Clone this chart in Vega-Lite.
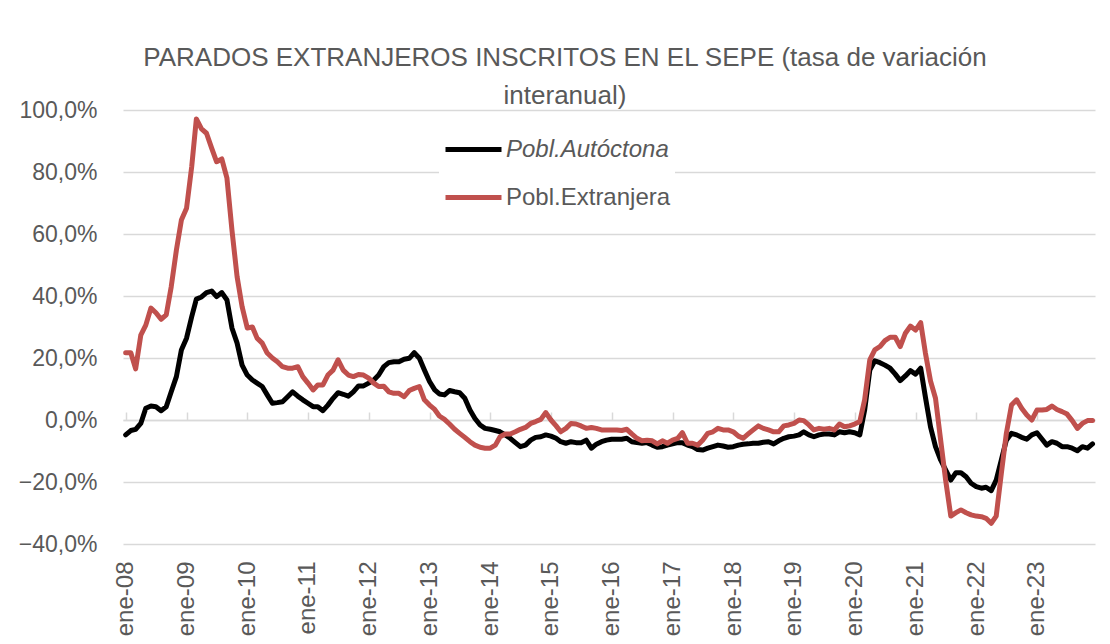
{
"$schema": "https://vega.github.io/schema/vega-lite/v6.json",
"width": 972, "height": 434,
"autosize": "none",
"padding": {"left": 123, "top": 110, "right": 15, "bottom": 100},
"background": "white",
"title": {"text": ["PARADOS EXTRANJEROS INSCRITOS EN EL SEPE (tasa de variación", "interanual)"], "font": "Liberation Sans", "fontSize": 26, "fontWeight": "normal", "color": "#595959", "anchor": "middle", "frame": "group", "dx": -44, "offset": -31, "lineHeight": 38, "baseline": "alphabetic"},
"data": {"values": [
{"mes":"2008-01","autoctona":-4.8,"extranjera":21.7},{"mes":"2008-02","autoctona":-3.4,"extranjera":21.7},{"mes":"2008-03","autoctona":-3.0,"extranjera":16.5},{"mes":"2008-04","autoctona":-1.1,"extranjera":27.4},{"mes":"2008-05","autoctona":3.8,"extranjera":30.6},{"mes":"2008-06","autoctona":4.5,"extranjera":36.1},{"mes":"2008-07","autoctona":4.3,"extranjera":34.6},{"mes":"2008-08","autoctona":3.0,"extranjera":32.5},{"mes":"2008-09","autoctona":4.3,"extranjera":33.9},{"mes":"2008-10","autoctona":9.1,"extranjera":43.0},{"mes":"2008-11","autoctona":14.0,"extranjera":54.8},{"mes":"2008-12","autoctona":22.6,"extranjera":64.5},
{"mes":"2009-01","autoctona":26.4,"extranjera":68.3},{"mes":"2009-02","autoctona":33.3,"extranjera":81.7},{"mes":"2009-03","autoctona":39.0,"extranjera":97.1},{"mes":"2009-04","autoctona":39.7,"extranjera":93.9},{"mes":"2009-05","autoctona":41.1,"extranjera":92.5},{"mes":"2009-06","autoctona":41.6,"extranjera":87.7},{"mes":"2009-07","autoctona":39.8,"extranjera":83.3},{"mes":"2009-08","autoctona":41.1,"extranjera":84.2},{"mes":"2009-09","autoctona":38.7,"extranjera":78.0},{"mes":"2009-10","autoctona":29.7,"extranjera":61.3},{"mes":"2009-11","autoctona":24.8,"extranjera":46.2},{"mes":"2009-12","autoctona":17.7,"extranjera":36.6},
{"mes":"2010-01","autoctona":14.5,"extranjera":29.7},{"mes":"2010-02","autoctona":12.9,"extranjera":30.0},{"mes":"2010-03","autoctona":11.9,"extranjera":26.4},{"mes":"2010-04","autoctona":10.8,"extranjera":24.8},{"mes":"2010-05","autoctona":8.1,"extranjera":21.6},{"mes":"2010-06","autoctona":5.4,"extranjera":20.0},{"mes":"2010-07","autoctona":5.6,"extranjera":18.8},{"mes":"2010-08","autoctona":5.9,"extranjera":17.2},{"mes":"2010-09","autoctona":7.5,"extranjera":16.7},{"mes":"2010-10","autoctona":9.1,"extranjera":16.7},{"mes":"2010-11","autoctona":7.7,"extranjera":17.2},{"mes":"2010-12","autoctona":6.5,"extranjera":14.0},
{"mes":"2011-01","autoctona":5.4,"extranjera":11.9},{"mes":"2011-02","autoctona":4.3,"extranjera":9.7},{"mes":"2011-03","autoctona":4.3,"extranjera":11.3},{"mes":"2011-04","autoctona":3.0,"extranjera":11.3},{"mes":"2011-05","autoctona":4.8,"extranjera":14.5},{"mes":"2011-06","autoctona":7.0,"extranjera":16.1},{"mes":"2011-07","autoctona":8.8,"extranjera":19.4},{"mes":"2011-08","autoctona":8.3,"extranjera":16.1},{"mes":"2011-09","autoctona":7.7,"extranjera":14.5},{"mes":"2011-10","autoctona":9.1,"extranjera":14.0},{"mes":"2011-11","autoctona":11.0,"extranjera":14.7},{"mes":"2011-12","autoctona":11.0,"extranjera":14.5},
{"mes":"2012-01","autoctona":11.9,"extranjera":13.5},{"mes":"2012-02","autoctona":12.9,"extranjera":11.9},{"mes":"2012-03","autoctona":14.5,"extranjera":10.8},{"mes":"2012-04","autoctona":17.2,"extranjera":10.9},{"mes":"2012-05","autoctona":18.5,"extranjera":9.1},{"mes":"2012-06","autoctona":18.8,"extranjera":8.6},{"mes":"2012-07","autoctona":18.8,"extranjera":8.6},{"mes":"2012-08","autoctona":19.6,"extranjera":7.5},{"mes":"2012-09","autoctona":19.9,"extranjera":9.5},{"mes":"2012-10","autoctona":21.7,"extranjera":10.2},{"mes":"2012-11","autoctona":19.9,"extranjera":10.8},{"mes":"2012-12","autoctona":16.1,"extranjera":6.5},
{"mes":"2013-01","autoctona":12.4,"extranjera":4.8},{"mes":"2013-02","autoctona":9.7,"extranjera":3.4},{"mes":"2013-03","autoctona":8.4,"extranjera":1.3},{"mes":"2013-04","autoctona":8.1,"extranjera":0.2},{"mes":"2013-05","autoctona":9.5,"extranjera":-1.3},{"mes":"2013-06","autoctona":9.1,"extranjera":-3.0},{"mes":"2013-07","autoctona":8.8,"extranjera":-4.3},{"mes":"2013-08","autoctona":7.0,"extranjera":-5.6},{"mes":"2013-09","autoctona":3.2,"extranjera":-7.0},{"mes":"2013-10","autoctona":0.5,"extranjera":-8.1},{"mes":"2013-11","autoctona":-1.6,"extranjera":-8.8},{"mes":"2013-12","autoctona":-2.7,"extranjera":-9.1},
{"mes":"2014-01","autoctona":-3.0,"extranjera":-9.1},{"mes":"2014-02","autoctona":-3.4,"extranjera":-8.1},{"mes":"2014-03","autoctona":-3.8,"extranjera":-5.4},{"mes":"2014-04","autoctona":-4.8,"extranjera":-4.5},{"mes":"2014-05","autoctona":-5.9,"extranjera":-4.5},{"mes":"2014-06","autoctona":-7.3,"extranjera":-3.8},{"mes":"2014-07","autoctona":-8.6,"extranjera":-3.0},{"mes":"2014-08","autoctona":-8.1,"extranjera":-2.4},{"mes":"2014-09","autoctona":-6.5,"extranjera":-1.1},{"mes":"2014-10","autoctona":-5.6,"extranjera":-0.5},{"mes":"2014-11","autoctona":-5.4,"extranjera":0.2},{"mes":"2014-12","autoctona":-4.8,"extranjera":2.4},
{"mes":"2015-01","autoctona":-5.2,"extranjera":0.0},{"mes":"2015-02","autoctona":-5.9,"extranjera":-1.9},{"mes":"2015-03","autoctona":-7.0,"extranjera":-3.8},{"mes":"2015-04","autoctona":-7.5,"extranjera":-2.7},{"mes":"2015-05","autoctona":-7.0,"extranjera":-1.1},{"mes":"2015-06","autoctona":-7.3,"extranjera":-1.3},{"mes":"2015-07","autoctona":-7.3,"extranjera":-1.9},{"mes":"2015-08","autoctona":-6.5,"extranjera":-2.7},{"mes":"2015-09","autoctona":-9.1,"extranjera":-2.4},{"mes":"2015-10","autoctona":-7.8,"extranjera":-2.7},{"mes":"2015-11","autoctona":-7.0,"extranjera":-3.2},{"mes":"2015-12","autoctona":-6.5,"extranjera":-3.2},
{"mes":"2016-01","autoctona":-6.2,"extranjera":-3.2},{"mes":"2016-02","autoctona":-6.2,"extranjera":-3.2},{"mes":"2016-03","autoctona":-6.2,"extranjera":-3.4},{"mes":"2016-04","autoctona":-5.9,"extranjera":-3.0},{"mes":"2016-05","autoctona":-7.0,"extranjera":-4.5},{"mes":"2016-06","autoctona":-7.3,"extranjera":-5.9},{"mes":"2016-07","autoctona":-7.5,"extranjera":-6.7},{"mes":"2016-08","autoctona":-7.3,"extranjera":-6.5},{"mes":"2016-09","autoctona":-8.1,"extranjera":-6.7},{"mes":"2016-10","autoctona":-8.8,"extranjera":-7.7},{"mes":"2016-11","autoctona":-8.6,"extranjera":-6.7},{"mes":"2016-12","autoctona":-8.1,"extranjera":-7.5},
{"mes":"2017-01","autoctona":-7.7,"extranjera":-6.5},{"mes":"2017-02","autoctona":-7.3,"extranjera":-5.9},{"mes":"2017-03","autoctona":-7.3,"extranjera":-4.1},{"mes":"2017-04","autoctona":-8.1,"extranjera":-7.5},{"mes":"2017-05","autoctona":-8.6,"extranjera":-7.5},{"mes":"2017-06","autoctona":-9.5,"extranjera":-8.1},{"mes":"2017-07","autoctona":-9.7,"extranjera":-6.5},{"mes":"2017-08","autoctona":-9.1,"extranjera":-4.3},{"mes":"2017-09","autoctona":-8.6,"extranjera":-3.8},{"mes":"2017-10","autoctona":-8.1,"extranjera":-2.7},{"mes":"2017-11","autoctona":-8.4,"extranjera":-3.2},{"mes":"2017-12","autoctona":-8.8,"extranjera":-3.2},
{"mes":"2018-01","autoctona":-8.6,"extranjera":-3.8},{"mes":"2018-02","autoctona":-8.1,"extranjera":-5.2},{"mes":"2018-03","autoctona":-7.8,"extranjera":-5.9},{"mes":"2018-04","autoctona":-7.7,"extranjera":-4.5},{"mes":"2018-05","autoctona":-7.5,"extranjera":-3.2},{"mes":"2018-06","autoctona":-7.5,"extranjera":-1.9},{"mes":"2018-07","autoctona":-7.2,"extranjera":-2.7},{"mes":"2018-08","autoctona":-7.0,"extranjera":-3.2},{"mes":"2018-09","autoctona":-7.7,"extranjera":-3.8},{"mes":"2018-10","autoctona":-6.7,"extranjera":-3.8},{"mes":"2018-11","autoctona":-5.9,"extranjera":-1.9},{"mes":"2018-12","autoctona":-5.4,"extranjera":-1.6},
{"mes":"2019-01","autoctona":-5.2,"extranjera":-1.1},{"mes":"2019-02","autoctona":-4.8,"extranjera":0.0},{"mes":"2019-03","autoctona":-3.8,"extranjera":-0.2},{"mes":"2019-04","autoctona":-4.8,"extranjera":-1.6},{"mes":"2019-05","autoctona":-5.4,"extranjera":-3.2},{"mes":"2019-06","autoctona":-4.8,"extranjera":-2.7},{"mes":"2019-07","autoctona":-4.5,"extranjera":-3.0},{"mes":"2019-08","autoctona":-4.5,"extranjera":-2.7},{"mes":"2019-09","autoctona":-4.8,"extranjera":-3.2},{"mes":"2019-10","autoctona":-3.8,"extranjera":-1.3},{"mes":"2019-11","autoctona":-4.1,"extranjera":-2.2},{"mes":"2019-12","autoctona":-3.8,"extranjera":-1.9},
{"mes":"2020-01","autoctona":-4.1,"extranjera":-1.3},{"mes":"2020-02","autoctona":-4.8,"extranjera":-0.5},{"mes":"2020-03","autoctona":3.2,"extranjera":6.5},{"mes":"2020-04","autoctona":16.1,"extranjera":19.4},{"mes":"2020-05","autoctona":19.1,"extranjera":22.6},{"mes":"2020-06","autoctona":18.5,"extranjera":23.7},{"mes":"2020-07","autoctona":17.7,"extranjera":25.6},{"mes":"2020-08","autoctona":16.7,"extranjera":26.7},{"mes":"2020-09","autoctona":14.8,"extranjera":26.7},{"mes":"2020-10","autoctona":12.7,"extranjera":23.7},{"mes":"2020-11","autoctona":14.2,"extranjera":28.0},{"mes":"2020-12","autoctona":15.9,"extranjera":30.3},
{"mes":"2021-01","autoctona":14.8,"extranjera":29.0},{"mes":"2021-02","autoctona":16.7,"extranjera":31.4},{"mes":"2021-03","autoctona":7.5,"extranjera":21.7},{"mes":"2021-04","autoctona":-2.2,"extranjera":12.6},{"mes":"2021-05","autoctona":-8.6,"extranjera":7.0},{"mes":"2021-06","autoctona":-12.9,"extranjera":-6.5},{"mes":"2021-07","autoctona":-16.1,"extranjera":-19.4},{"mes":"2021-08","autoctona":-19.4,"extranjera":-31.0},{"mes":"2021-09","autoctona":-17.0,"extranjera":-29.9},{"mes":"2021-10","autoctona":-17.0,"extranjera":-29.0},{"mes":"2021-11","autoctona":-18.3,"extranjera":-29.9},{"mes":"2021-12","autoctona":-20.4,"extranjera":-30.6},
{"mes":"2022-01","autoctona":-21.5,"extranjera":-31.0},{"mes":"2022-02","autoctona":-22.0,"extranjera":-31.2},{"mes":"2022-03","autoctona":-21.7,"extranjera":-31.7},{"mes":"2022-04","autoctona":-22.8,"extranjera":-33.3},{"mes":"2022-05","autoctona":-19.4,"extranjera":-31.0},{"mes":"2022-06","autoctona":-12.9,"extranjera":-17.2},{"mes":"2022-07","autoctona":-6.5,"extranjera":-4.3},{"mes":"2022-08","autoctona":-4.3,"extranjera":4.8},{"mes":"2022-09","autoctona":-4.8,"extranjera":6.5},{"mes":"2022-10","autoctona":-5.6,"extranjera":3.8},{"mes":"2022-11","autoctona":-6.2,"extranjera":1.6},{"mes":"2022-12","autoctona":-4.8,"extranjera":0.0},
{"mes":"2023-01","autoctona":-4.1,"extranjera":3.2},{"mes":"2023-02","autoctona":-6.2,"extranjera":3.2},{"mes":"2023-03","autoctona":-8.1,"extranjera":3.4},{"mes":"2023-04","autoctona":-7.0,"extranjera":4.5},{"mes":"2023-05","autoctona":-7.5,"extranjera":3.4},{"mes":"2023-06","autoctona":-8.6,"extranjera":2.7},{"mes":"2023-07","autoctona":-8.6,"extranjera":1.9},{"mes":"2023-08","autoctona":-9.1,"extranjera":-0.2},{"mes":"2023-09","autoctona":-9.9,"extranjera":-2.7},{"mes":"2023-10","autoctona":-8.6,"extranjera":-1.1},{"mes":"2023-11","autoctona":-9.1,"extranjera":-0.2},{"mes":"2023-12","autoctona":-7.7,"extranjera":-0.2}
]},
"transform": [{"fold": ["autoctona", "extranjera"], "as": ["serie", "valor"]}],
"encoding": {
  "y": {"field": "valor", "type": "quantitative", "scale": {"domain": [-40, 100], "nice": false, "zero": false},
        "axis": {"values": [-40, -20, 0, 20, 40, 60, 80, 100], "labelExpr": "replace(format(datum.value, '.1f'), '.', ',') + '%'", "grid": true, "gridColor": "#d9d9d9", "gridWidth": 1.5, "domain": false, "ticks": false, "labelFont": "Liberation Sans", "labelFontSize": 23, "labelColor": "#595959", "labelPadding": 26, "title": null}},
  "color": {"field": "serie", "type": "nominal", "scale": {"domain": ["autoctona", "extranjera"], "range": ["#000000", "#C0504D"]},
            "legend": {"orient": "none", "legendX": 316, "legendY": 5, "title": null, "direction": "vertical", "symbolType": "stroke", "symbolSize": 3136, "symbolStrokeWidth": 5, "labelFont": "Liberation Sans", "labelFontSize": 24, "labelLimit": 400, "labelColor": "#595959", "labelExpr": "datum.value == 'autoctona' ? 'Pobl.Autóctona' : 'Pobl.Extranjera'", "labelFontStyle": {"expr": "datum.value == 'autoctona' ? 'italic' : 'normal'"}, "rowPadding": 5, "fillColor": "white", "padding": 4, "labelOffset": 2}}
},
"layer": [
  {"transform": [{"filter": "datum.serie == 'autoctona'"}],
   "mark": {"type": "line", "strokeWidth": 5, "strokeCap": "round", "strokeJoin": "round"},
   "encoding": {"x": {"field": "mes", "type": "temporal", "scale": {"domain": [{"year": 2007, "month": 12, "date": 16}, {"year": 2023, "month": 12, "date": 16}]},
     "axis": {"orient": "bottom", "values": [{"year":2008,"month":1,"date":1},{"year":2009,"month":1,"date":1},{"year":2010,"month":1,"date":1},{"year":2011,"month":1,"date":1},{"year":2012,"month":1,"date":1},{"year":2013,"month":1,"date":1},{"year":2014,"month":1,"date":1},{"year":2015,"month":1,"date":1},{"year":2016,"month":1,"date":1},{"year":2017,"month":1,"date":1},{"year":2018,"month":1,"date":1},{"year":2019,"month":1,"date":1},{"year":2020,"month":1,"date":1},{"year":2021,"month":1,"date":1},{"year":2022,"month":1,"date":1},{"year":2023,"month":1,"date":1}],
       "labelExpr": "'ene-' + timeFormat(datum.value, '%y')", "labelAngle": -90, "labelFont": "Liberation Sans", "labelFontSize": 24, "labelColor": "#595959", "labelPadding": 17, "ticks": false, "domain": false, "grid": false, "title": null, "labelOverlap": false}}}},
  {"transform": [{"filter": "datum.serie == 'extranjera'"}],
   "mark": {"type": "line", "strokeWidth": 5, "strokeCap": "round", "strokeJoin": "round"},
   "encoding": {"x": {"field": "mes", "type": "temporal",
     "axis": {"orient": "top", "offset": -310, "values": [{"year":2008,"month":1,"date":1},{"year":2009,"month":1,"date":1},{"year":2010,"month":1,"date":1},{"year":2011,"month":1,"date":1},{"year":2012,"month":1,"date":1},{"year":2013,"month":1,"date":1},{"year":2014,"month":1,"date":1},{"year":2015,"month":1,"date":1},{"year":2016,"month":1,"date":1},{"year":2017,"month":1,"date":1},{"year":2018,"month":1,"date":1},{"year":2019,"month":1,"date":1},{"year":2020,"month":1,"date":1},{"year":2021,"month":1,"date":1},{"year":2022,"month":1,"date":1},{"year":2023,"month":1,"date":1}],
       "labels": false, "ticks": true, "tickSize": 8, "tickColor": "#d9d9d9", "tickWidth": 1.5, "domain": true, "domainColor": "#d9d9d9", "domainWidth": 1.5, "grid": false, "title": null}}}}
],
"resolve": {"axis": {"x": "independent"}},
"config": {"view": {"stroke": null}, "font": "Liberation Sans"}
}
